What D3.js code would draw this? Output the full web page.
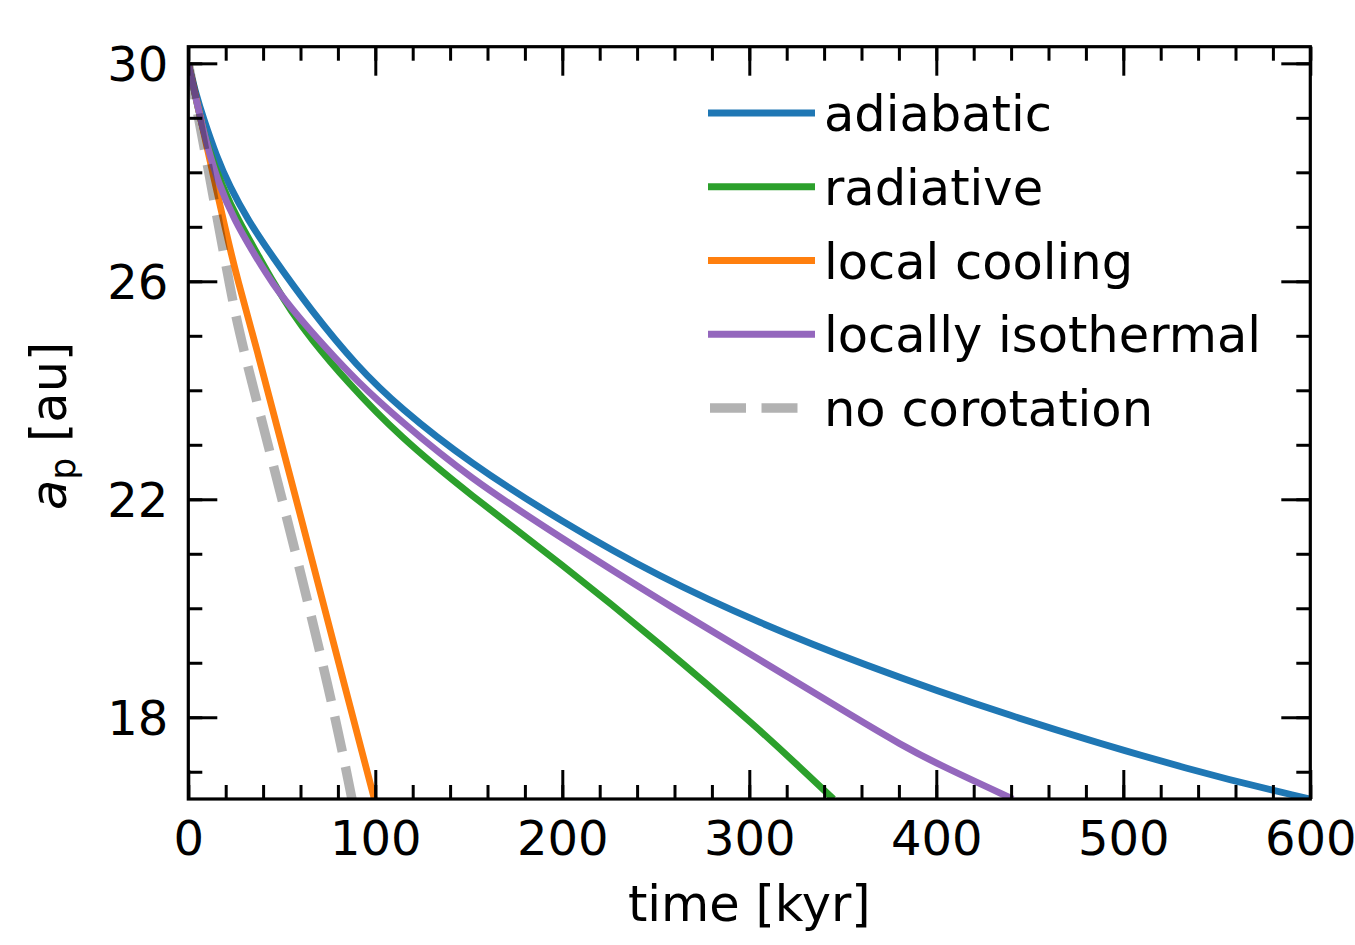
<!DOCTYPE html>
<html>
<head>
<meta charset="utf-8">
<script src="https://cdn.jsdelivr.net/npm/d3@7"></script>
<style>
  html, body { margin: 0; padding: 0; background: #fff; }
  svg { display: block; font-family: "DejaVu Sans", sans-serif; }
</style>
</head>
<body>
<svg id="chart" width="1355" height="945"></svg>
<script>
// ---- data ----
const seriesNames = ["adiabatic", "radiative", "local cooling", "locally isothermal", "no corotation"];
const seriesColors = ["#1f77b4", "#2ca02c", "#ff7f0e", "#9467bd", "rgba(0,0,0,0.3)"];

const adiabaticT = [0, 4, 8, 15, 22, 32, 44, 66, 90, 113, 150, 199, 252, 306, 359, 434, 541, 600];
const adiabaticA = [30, 29.45, 29.0, 28.3, 27.75, 27.12, 26.5, 25.45, 24.45, 23.68, 22.68, 21.6, 20.57, 19.72, 18.99, 18.07, 16.97, 16.5];

const radiativeT = [0, 5, 10, 18, 27, 37, 46, 55, 65, 85, 113, 150, 199, 252, 306, 327, 345];
const radiativeA = [30, 29.2, 28.5, 27.75, 27.1, 26.5, 25.95, 25.45, 24.97, 24.15, 23.15, 22.1, 20.83, 19.36, 17.76, 17.08, 16.5];

const coolingT = [0, 6.5, 13, 19.5, 26.5, 34, 58.5, 85.7, 99.5];
const coolingA = [30, 29, 28, 27, 26, 25.1, 21.9, 18.3, 16.5];

const isothermalT = [0, 5, 10, 16, 25, 34, 45, 59, 73, 90, 113, 150, 199, 252, 306, 359, 381, 400, 441];
const isothermalA = [30, 29.2, 28.5, 27.8, 27.1, 26.57, 25.95, 25.34, 24.8, 24.17, 23.45, 22.4, 21.3, 20.15, 19.05, 17.94, 17.5, 17.15, 16.5];

const noCorotT = [0, 5.5, 11, 16.3, 21.8, 27.3, 50.4, 77, 87.5];
const noCorotA = [30, 29, 28, 27, 26, 25, 22, 18.3, 16.5];

const xMajorTicks = [0, 100, 200, 300, 400, 500, 600];
const xMinorTicks = d3.range(0, 601, 20);
const yMajorTicks = [18, 22, 26, 30];
const yMinorTicks = d3.range(17, 31, 1);

const xDomain = [0, 600];
const yDomain = [16.5, 30.305];

// ---- layout ----
const svg = d3.select("#chart");
const L = 188.3, R = 1310.3, T = 46.7, B = 799;
const x = d3.scaleLinear().domain(xDomain).range([L, R]);
const y = d3.scaleLinear().domain(yDomain).range([B, T]);

const series = [
  {t: adiabaticT, a: adiabaticA},
  {t: radiativeT, a: radiativeA},
  {t: coolingT, a: coolingA},
  {t: isothermalT, a: isothermalA},
  {t: noCorotT, a: noCorotA}
].map((s, i) => ({
  name: seriesNames[i],
  color: seriesColors[i],
  dashed: i === 4,
  pts: s.t.map((t, j) => [t, s.a[j]])
}));

svg.append("clipPath").attr("id", "clip")
  .append("rect").attr("x", L).attr("y", T).attr("width", R - L).attr("height", B - T);

const line = d3.line().x(d => x(d[0])).y(d => y(d[1])).curve(d3.curveBasis);

const gLines = svg.append("g").attr("clip-path", "url(#clip)");
series.forEach(s => {
  gLines.append("path")
    .attr("d", line(s.pts))
    .attr("fill", "none")
    .attr("stroke", s.color)
    .attr("stroke-width", s.dashed ? 9.5 : 6.8)
    .attr("stroke-dasharray", s.dashed ? "36,15.5" : null)
    .attr("stroke-linejoin", "round");
});

// ---- axes ----
const tickFont = 48;
function styleAxis(g) {
  g.select(".domain").remove();
  g.selectAll(".tick line").attr("stroke", "#000").attr("stroke-width", 3);
  g.selectAll(".tick text").attr("font-size", tickFont).attr("fill", "#000")
    .attr("font-family", "DejaVu Sans");
}
// bottom
svg.append("g").attr("transform", `translate(0,${B})`)
  .call(d3.axisBottom(x).tickValues(xMinorTicks).tickSize(-14).tickFormat(""))
  .call(styleAxis);
svg.append("g").attr("transform", `translate(0,${B})`)
  .call(d3.axisBottom(x).tickValues(xMajorTicks).tickSize(-29).tickPadding(22).tickFormat(d3.format("d")))
  .call(styleAxis);
// top
svg.append("g").attr("transform", `translate(0,${T})`)
  .call(d3.axisTop(x).tickValues(xMinorTicks).tickSize(-14).tickFormat(""))
  .call(styleAxis);
svg.append("g").attr("transform", `translate(0,${T})`)
  .call(d3.axisTop(x).tickValues(xMajorTicks).tickSize(-29).tickFormat(""))
  .call(styleAxis);
// left
svg.append("g").attr("transform", `translate(${L},0)`)
  .call(d3.axisLeft(y).tickValues(yMinorTicks).tickSize(-14).tickFormat(""))
  .call(styleAxis);
const gyl = svg.append("g").attr("transform", `translate(${L},0)`)
  .call(d3.axisLeft(y).tickValues(yMajorTicks).tickSize(-29).tickPadding(20).tickFormat(d3.format("d")))
  .call(styleAxis);
gyl.selectAll(".tick text").attr("dy", "0.36em");
// right
svg.append("g").attr("transform", `translate(${R},0)`)
  .call(d3.axisRight(y).tickValues(yMinorTicks).tickSize(-14).tickFormat(""))
  .call(styleAxis);
svg.append("g").attr("transform", `translate(${R},0)`)
  .call(d3.axisRight(y).tickValues(yMajorTicks).tickSize(-29).tickFormat(""))
  .call(styleAxis);

// spines
svg.append("rect").attr("x", L).attr("y", T).attr("width", R - L).attr("height", B - T)
  .attr("fill", "none").attr("stroke", "#000").attr("stroke-width", 3.2);

// ---- axis labels ----
const labelFont = 49.5;
svg.append("text")
  .attr("x", (L + R) / 2).attr("y", 921)
  .attr("text-anchor", "middle").attr("font-size", labelFont).attr("fill", "#000")
  .text("time [kyr]");

const yl = svg.append("text")
  .attr("transform", `translate(65.5,${(T + B) / 2 + 3}) rotate(-90)`)
  .attr("text-anchor", "middle").attr("font-size", labelFont).attr("fill", "#000");
yl.append("tspan").attr("font-style", "italic").text("a");
yl.append("tspan").attr("font-size", labelFont * 0.7).attr("dy", 9).text("p");
yl.append("tspan").attr("dy", -9).text(" [au]");

// ---- legend ----
const legX0 = 708, legX1 = 815, legTextX = 824, legY0 = 113, legDY = 73.75;
const leg = svg.append("g");
series.forEach((s, i) => {
  const yy = legY0 + i * legDY;
  leg.append("line")
    .attr("x1", s.dashed ? 710 : legX0).attr("x2", s.dashed ? 801 : legX1)
    .attr("y1", yy).attr("y2", yy)
    .attr("stroke", s.color)
    .attr("stroke-width", s.dashed ? 9.5 : 6.8)
    .attr("stroke-dasharray", s.dashed ? "36,15.5" : null);
  leg.append("text")
    .attr("x", legTextX).attr("y", yy + 18)
    .attr("font-size", labelFont).attr("fill", "#000")
    .text(s.name);
});
</script>
</body>
</html>
